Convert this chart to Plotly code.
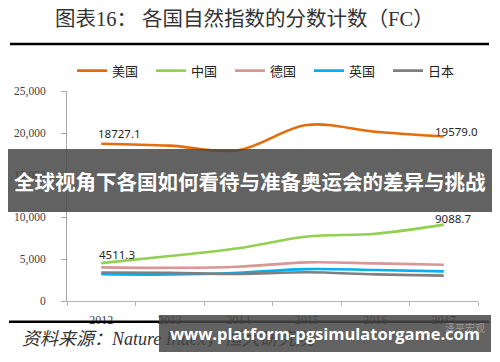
import plotly.graph_objects as go

# ---- data ----
years = ["2012", "2013", "2014", "2015", "2016", "2017"]
usa = [18727.1, 18500, 17950, 20950, 20150, 19579.0]
china = [4511.3, 5350, 6270, 7680, 8000, 9088.7]
germany = [4000, 3950, 4080, 4600, 4480, 4320]
uk = [3180, 3150, 3370, 3800, 3690, 3530]
japan = [3400, 3350, 3220, 3420, 3170, 3020]
series_names = ["美国", "中国", "德国", "英国", "日本"]
ytick_vals = [0, 5000, 10000, 15000, 20000, 25000]

title_text = "图表16： 各国自然指数的分数计数（FC）"
source_text = "资料来源：Nature Index，恒大研究院"
banner_text = "全球视角下各国如何看待与准备奥运会的差异与挑战"
url_text = "www.platform-pgsimulatorgame.com"
mark_text = "泽平宏观"

# ---- geometry helpers (pixel -> paper) ----
W, H = 500, 362
L, R, T, B = 67, 22, 91, 61
def px(x):
    return (x - L) / (W - L - R)
def py(y):
    return (H - B - y) / (H - T - B)

colors = ["#E46C0A", "#92D050", "#D99694", "#00B0F0", "#7F7F7F"]
series = [usa, china, germany, uk, japan]

fig = go.Figure()
for name, vals, col in zip(series_names, series, colors):
    fig.add_trace(go.Scatter(
        x=years, y=vals, mode="lines", name=name,
        line=dict(color=col, width=2.6, shape="spline"),
        hoverinfo="skip",
    ))

lab_font = dict(family="Noto Sans, Liberation Sans", size=11.5, color="#262626")
annotations = []
# data labels (x given as category index)
for xi, vals, xsh, ysh in [(0, usa, -5, 10), (5, usa, -11, 5), (0, china, -4, 9), (5, china, -11, 6)]:
    annotations.append(dict(
        x=xi, y=vals[xi], xref="x", yref="y", text=f"{vals[xi]:.1f}",
        showarrow=False, xanchor="left", yanchor="middle", xshift=xsh, yshift=ysh,
        font=lab_font,
    ))

# source text
annotations.append(dict(
    x=px(20), y=py(339), xref="paper", yref="paper", xanchor="left", yanchor="middle",
    text="<i>" + source_text + "</i>", showarrow=False,
    font=dict(family="Liberation Serif, Noto Sans CJK SC", size=18, color="#333333"),
))
# title
annotations.append(dict(
    x=px(244), y=py(19), xref="paper", yref="paper", xanchor="center", yanchor="middle",
    text=title_text, showarrow=False,
    font=dict(family="Liberation Serif, Noto Sans CJK SC", size=20.5, color="#333333"),
))
# overlay banners
annotations.append(dict(
    x=px(250), y=py(180.5), xref="paper", yref="paper", xanchor="center", yanchor="middle",
    text="<b>" + banner_text + "</b>", showarrow=False,
    width=484, height=63, borderpad=0, borderwidth=0,
    bgcolor="rgba(70,70,70,0.85)",
    font=dict(family="Noto Sans CJK SC", size=20.5, color="white"),
))
annotations.append(dict(
    x=px(325), y=py(333.5), xref="paper", yref="paper", xanchor="center", yanchor="middle",
    text="<b>" + url_text + "</b>", showarrow=False,
    width=332, height=37, borderpad=0, borderwidth=0,
    bgcolor="rgba(70,70,70,0.85)",
    font=dict(family="Open Sans", size=16.5, color="white"),
))
annotations.append(dict(
    x=px(465), y=py(327), xref="paper", yref="paper", xanchor="center", yanchor="middle",
    text=mark_text, showarrow=False,
    font=dict(family="Noto Sans CJK SC", size=10, color="rgba(190,190,190,0.6)"),
))

shapes = [
    dict(type="line", xref="paper", yref="paper", x0=px(10), x1=px(489), y0=py(44), y1=py(44),
         line=dict(color="black", width=2.5)),
    dict(type="line", xref="paper", yref="paper", x0=px(9), x1=px(489), y0=py(321.7), y1=py(321.7),
         line=dict(color="black", width=2.5)),
]

fig.update_layout(
    width=W, height=H, autosize=False,
    margin=dict(l=L, r=R, t=T, b=B, pad=0),
    paper_bgcolor="white", plot_bgcolor="white",
    showlegend=True,
    legend=dict(
        orientation="h", x=px(72), y=py(70.7), xanchor="left", yanchor="middle",
        entrywidth=34, entrywidthmode="pixels",
        font=dict(family="Noto Sans CJK SC", size=13, color="#222222"),
        bgcolor="rgba(0,0,0,0)", itemclick=False, itemdoubleclick=False,
    ),
    xaxis=dict(
        type="category", range=[-0.5, 5.5], showgrid=False, zeroline=False,
        showline=True, linecolor="#B4B4B4", linewidth=1,
        ticks="outside", tickson="boundaries", ticklen=4, tickcolor="#B4B4B4",
        tickfont=dict(family="Liberation Serif", size=12, color="#404040"),
        ticklabelstandoff=8,
    ),
    yaxis=dict(
        range=[0, 25000], tickvals=ytick_vals, tickformat=",", showgrid=False, zeroline=False,
        showline=True, linecolor="#A6A6A6", linewidth=1,
        ticks="outside", ticklen=5, tickcolor="#A6A6A6",
        tickfont=dict(family="Liberation Serif", size=11.5, color="#404040"),
        ticklabelstandoff=13,
    ),
    annotations=annotations,
    shapes=shapes,
)

fig.write_html("out.html", config={"displayModeBar": False},
               post_script="document.body.style.margin='0';")
